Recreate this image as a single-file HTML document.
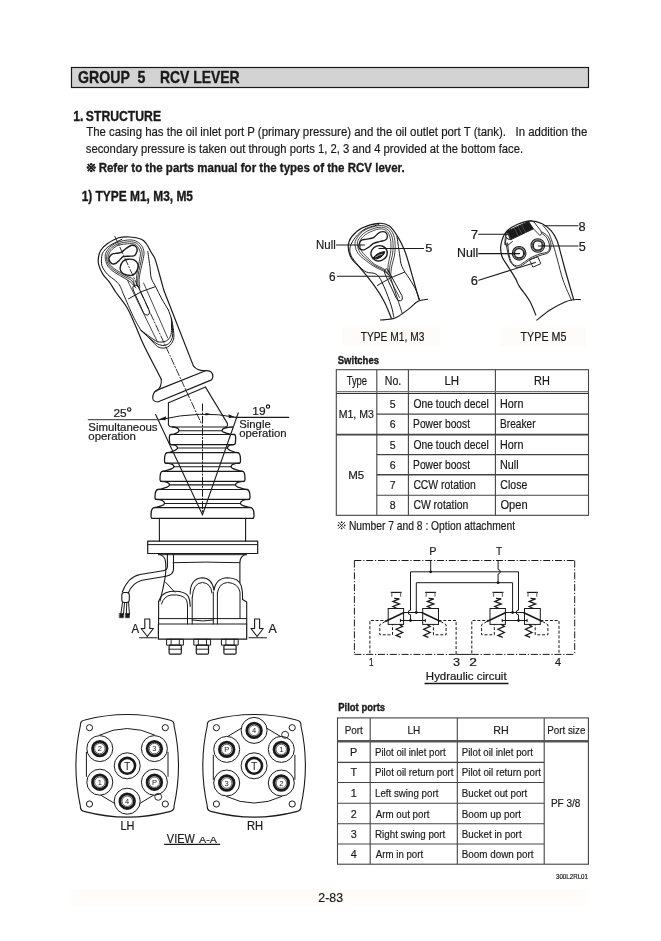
<!DOCTYPE html>
<html><head><meta charset="utf-8">
<style>
html,body{margin:0;padding:0;background:#fff;}
body{width:661px;height:941px;position:relative;overflow:hidden;}
svg{position:absolute;left:0;top:0;will-change:transform;}
text{font-family:"Liberation Sans",sans-serif;white-space:pre;}
</style></head><body>
<svg width="661" height="941" viewBox="0 0 661 941">
<!-- 00_header.svg -->
<rect x="71.5" y="67.5" width="517" height="20" fill="#d3d3d3" stroke="#1a1a1a" stroke-width="1.2"/>

<!-- 10_tables.svg -->
<g stroke="#444" stroke-width="1.1" fill="none" shape-rendering="auto">
<rect x="336.3" y="369.7" width="252.2" height="145.6"/>
<line x1="376.8" y1="369.7" x2="376.8" y2="515.3"/>
<line x1="408.4" y1="369.7" x2="408.4" y2="515.3"/>
<line x1="495.4" y1="369.7" x2="495.4" y2="515.3"/>
<line x1="336.3" y1="391.6" x2="588.5" y2="391.6" stroke="#777"/>
<line x1="336.3" y1="393.5" x2="588.5" y2="393.5" stroke="#333"/>
<line x1="376.8" y1="414.1" x2="588.5" y2="414.1"/>
<line x1="336.3" y1="434.6" x2="588.5" y2="434.6" stroke-width="1.6"/>
<line x1="376.8" y1="454.6" x2="588.5" y2="454.6"/>
<line x1="376.8" y1="474.8" x2="588.5" y2="474.8" stroke-width="1.5"/>
<line x1="376.8" y1="495.3" x2="588.5" y2="495.3"/>
</g>
<g stroke="#444" stroke-width="1.1" fill="none">
<rect x="337.5" y="717.9" width="250.9" height="146.3"/>
<line x1="370.2" y1="717.9" x2="370.2" y2="864.2"/>
<line x1="457.3" y1="717.9" x2="457.3" y2="864.2"/>
<line x1="544.2" y1="717.9" x2="544.2" y2="864.2"/>
<line x1="337.5" y1="741.2" x2="588.4" y2="741.2" stroke-width="2.6" stroke="#555"/>
<line x1="337.5" y1="762.4" x2="544.2" y2="762.4"/>
<line x1="337.5" y1="782.5" x2="544.2" y2="782.5"/>
<line x1="337.5" y1="803.2" x2="544.2" y2="803.2"/>
<line x1="337.5" y1="823.7" x2="544.2" y2="823.7"/>
<line x1="337.5" y1="844.0" x2="544.2" y2="844.0"/>
</g>

<!-- 20_hyd.svg -->
<g stroke="#1a1a1a" fill="none">
<line x1="354.40" y1="560.50" x2="574.70" y2="560.50" stroke-width="1.0" stroke-dasharray="7,1.8,1.2,1.8"/>
<line x1="354.40" y1="560.50" x2="354.40" y2="654.40" stroke-width="1.0" stroke-dasharray="7,1.8,1.2,1.8"/>
<line x1="574.70" y1="560.50" x2="574.70" y2="654.40" stroke-width="1.0" stroke-dasharray="7,1.8,1.2,1.8"/>
<line x1="354.40" y1="654.40" x2="456.10" y2="654.40" stroke-width="1.0" stroke-dasharray="7,1.8,1.2,1.8"/>
<line x1="456.10" y1="654.40" x2="471.80" y2="654.40" stroke-width="1.0" />
<line x1="471.80" y1="654.40" x2="574.70" y2="654.40" stroke-width="1.0" stroke-dasharray="7,1.8,1.2,1.8"/>
<line x1="430.70" y1="560.50" x2="430.70" y2="571.80" stroke-width="1.0" />
<line x1="410.50" y1="571.80" x2="518.50" y2="571.80" stroke-width="1.0" />
<circle cx="430.7" cy="571.8" r="1.4" fill="#1a1a1a" stroke="none"/>
<path d="M498.1 560.5 V569.5999999999999 a2.2 2.2 0 0 1 0 4.4 V582.7" stroke-width="1.0" />
<line x1="416.30" y1="582.70" x2="512.60" y2="582.70" stroke-width="1.0" />
<circle cx="498.1" cy="582.7" r="1.4" fill="#1a1a1a" stroke="none"/>
<rect x="388.20" y="608.5" width="15.40" height="15.90" stroke-width="1.0"/>
<rect x="422.70" y="608.5" width="15.80" height="15.90" stroke-width="1.0"/>
<line x1="385.10" y1="621.50" x2="404.10" y2="612.50" stroke-width="1.6" />
<line x1="421.60" y1="612.50" x2="440.70" y2="621.50" stroke-width="1.6" />
<line x1="403.60" y1="612.50" x2="422.70" y2="612.50" stroke-width="1.0" />
<line x1="400.40" y1="620.50" x2="425.30" y2="620.50" stroke-width="1.0" />
<line x1="400.40" y1="618.90" x2="400.40" y2="622.10" stroke-width="1.0" />
<line x1="425.30" y1="618.90" x2="425.30" y2="622.10" stroke-width="1.0" />
<line x1="390.70" y1="592.40" x2="401.70" y2="592.40" stroke-width="1.2" />
<line x1="391.80" y1="592.40" x2="391.80" y2="596.80" stroke-width="1.1" stroke="#666"/>
<line x1="400.60" y1="592.40" x2="400.60" y2="596.80" stroke-width="1.1" stroke="#666"/>
<path d="M394.20 598.40 L399.40 598.90 L393.00 601.43 L399.40 603.96 L393.00 606.48 L397.20 608.5" stroke-width="1.3" />
<line x1="425.10" y1="592.40" x2="436.10" y2="592.40" stroke-width="1.2" />
<line x1="426.20" y1="592.40" x2="426.20" y2="596.80" stroke-width="1.1" stroke="#666"/>
<line x1="435.00" y1="592.40" x2="435.00" y2="596.80" stroke-width="1.1" stroke="#666"/>
<path d="M428.60 598.40 L433.80 598.90 L427.40 601.43 L433.80 603.96 L427.40 606.48 L431.60 608.5" stroke-width="1.3" />
<path d="M399.40 624.40 L402.60 626.35 L396.20 629.27 L402.60 632.52 L396.20 635.45 L400.90 637.4" stroke-width="1.3" />
<path d="M426.90 624.40 L430.10 626.35 L423.70 629.27 L430.10 632.52 L423.70 635.45 L428.40 637.4" stroke-width="1.3" />
<path d="M385.10 621.5 L379.80 624.7 V634.8 H392.50 V624.4" stroke-width="1.0" stroke-dasharray="3,1.8"/>
<path d="M440.70 621.5 L446.10 624.7 V634.8 H433.40 V624.4" stroke-width="1.0" stroke-dasharray="3,1.8"/>
<path d="M388.20 620.5 H369.90 V654.4" stroke-width="1.0" stroke-dasharray="3,1.8"/>
<path d="M438.50 620.5 H456.10 V654.4" stroke-width="1.0" stroke-dasharray="3,1.8"/>
<path d="M410.5 571.8 V610.2 a2.3 2.3 0 0 0 0 4.6 V620.5" stroke-width="1.0" />
<circle cx="410.5" cy="620.5" r="1.4" fill="#1a1a1a" stroke="none"/>
<line x1="416.30" y1="582.70" x2="416.30" y2="612.50" stroke-width="1.0" />
<circle cx="416.3" cy="612.5" r="1.4" fill="#1a1a1a" stroke="none"/>
<rect x="490.00" y="608.5" width="15.40" height="15.90" stroke-width="1.0"/>
<rect x="524.50" y="608.5" width="15.80" height="15.90" stroke-width="1.0"/>
<line x1="486.90" y1="621.50" x2="505.90" y2="612.50" stroke-width="1.6" />
<line x1="523.40" y1="612.50" x2="542.50" y2="621.50" stroke-width="1.6" />
<line x1="505.40" y1="612.50" x2="524.50" y2="612.50" stroke-width="1.0" />
<line x1="502.20" y1="620.50" x2="527.10" y2="620.50" stroke-width="1.0" />
<line x1="502.20" y1="618.90" x2="502.20" y2="622.10" stroke-width="1.0" />
<line x1="527.10" y1="618.90" x2="527.10" y2="622.10" stroke-width="1.0" />
<line x1="492.50" y1="592.40" x2="503.50" y2="592.40" stroke-width="1.2" />
<line x1="493.60" y1="592.40" x2="493.60" y2="596.80" stroke-width="1.1" stroke="#666"/>
<line x1="502.40" y1="592.40" x2="502.40" y2="596.80" stroke-width="1.1" stroke="#666"/>
<path d="M496.00 598.40 L501.20 598.90 L494.80 601.43 L501.20 603.96 L494.80 606.48 L499.00 608.5" stroke-width="1.3" />
<line x1="526.90" y1="592.40" x2="537.90" y2="592.40" stroke-width="1.2" />
<line x1="528.00" y1="592.40" x2="528.00" y2="596.80" stroke-width="1.1" stroke="#666"/>
<line x1="536.80" y1="592.40" x2="536.80" y2="596.80" stroke-width="1.1" stroke="#666"/>
<path d="M530.40 598.40 L535.60 598.90 L529.20 601.43 L535.60 603.96 L529.20 606.48 L533.40 608.5" stroke-width="1.3" />
<path d="M501.20 624.40 L504.40 626.35 L498.00 629.27 L504.40 632.52 L498.00 635.45 L502.70 637.4" stroke-width="1.3" />
<path d="M528.70 624.40 L531.90 626.35 L525.50 629.27 L531.90 632.52 L525.50 635.45 L530.20 637.4" stroke-width="1.3" />
<path d="M486.90 621.5 L481.60 624.7 V634.8 H494.30 V624.4" stroke-width="1.0" stroke-dasharray="3,1.8"/>
<path d="M542.50 621.5 L547.90 624.7 V634.8 H535.20 V624.4" stroke-width="1.0" stroke-dasharray="3,1.8"/>
<path d="M490.00 620.5 H471.80 V654.4" stroke-width="1.0" stroke-dasharray="3,1.8"/>
<path d="M540.30 620.5 H559.00 V654.4" stroke-width="1.0" stroke-dasharray="3,1.8"/>
<line x1="512.60" y1="582.70" x2="512.60" y2="612.50" stroke-width="1.0" />
<circle cx="512.6" cy="612.5" r="1.4" fill="#1a1a1a" stroke="none"/>
<path d="M518.5 571.8 V610.2 a2.3 2.3 0 0 0 0 4.6 V620.5" stroke-width="1.0" />
<circle cx="518.5" cy="620.5" r="1.4" fill="#1a1a1a" stroke="none"/>
<line x1="424.50" y1="683.40" x2="508.50" y2="683.40" stroke-width="1.5" />
</g>
<!-- 30_joy_bottom.svg -->
<g stroke="#1a1a1a" fill="none" stroke-linejoin="round" stroke-linecap="round">
<path d="M172.50 427 C177.00 427.30 179.00 428.90 179.00 430.70 C179.00 432.50 173.50 434.50 170.50 434.50 C168.70 435.00 169.50 438.50 169.50 441.84 C169.50 443.90 170.50 444.70 171.50 444.70 C175.50 445.00 177.50 446.20 177.50 448.00 C177.50 449.80 170.00 452.70 167.00 452.70 C165.20 453.20 164.50 456.70 164.50 460.19 C164.50 462.30 164.50 463.10 165.50 463.10 C172.00 463.40 174.00 465.00 174.00 466.80 C174.00 468.60 165.20 471.30 162.20 471.30 C160.40 471.80 160.00 475.30 160.00 478.50 C160.00 480.50 160.00 481.30 161.00 481.30 C167.50 481.60 169.50 483.10 169.50 484.90 C169.50 486.70 160.70 489.50 157.70 489.50 C155.90 490.00 155.00 493.50 155.00 496.63 C155.00 498.60 155.00 499.40 156.00 499.40 C162.50 499.70 164.50 501.70 164.50 503.50 C164.50 505.30 157.00 507.60 154.00 507.60 C152.20 508.10 151.00 511.60 151.00 515.30 C151.00 517.50 151.00 518.30 152.00 518.30 " stroke-width="1.3" />
<path d="M232.50 427 C224.00 427.30 222.00 428.90 222.00 430.70 C222.00 432.50 231.50 434.50 234.50 434.50 C236.30 435.00 235.50 438.50 235.50 441.84 C235.50 443.90 234.50 444.70 233.50 444.70 C229.50 445.00 227.50 446.20 227.50 448.00 C227.50 449.80 235.00 452.70 238.00 452.70 C239.80 453.20 240.50 456.70 240.50 460.19 C240.50 462.30 240.50 463.10 239.50 463.10 C233.00 463.40 231.00 465.00 231.00 466.80 C231.00 468.60 239.80 471.30 242.80 471.30 C244.60 471.80 245.00 475.30 245.00 478.50 C245.00 480.50 245.00 481.30 244.00 481.30 C237.50 481.60 235.50 483.10 235.50 484.90 C235.50 486.70 244.30 489.50 247.30 489.50 C249.10 490.00 250.00 493.50 250.00 496.63 C250.00 498.60 250.00 499.40 249.00 499.40 C242.50 499.70 240.50 501.70 240.50 503.50 C240.50 505.30 248.00 507.60 251.00 507.60 C252.80 508.10 254.00 511.60 254.00 515.30 C254.00 517.50 254.00 518.30 253.00 518.30 " stroke-width="1.3" />
<line x1="170.50" y1="434.50" x2="234.50" y2="434.50" stroke-width="1.2" />
<line x1="171.50" y1="444.70" x2="233.50" y2="444.70" stroke-width="1.2" />
<line x1="167.00" y1="452.70" x2="238.00" y2="452.70" stroke-width="1.2" />
<line x1="165.50" y1="463.10" x2="239.50" y2="463.10" stroke-width="1.2" />
<line x1="162.20" y1="471.30" x2="242.80" y2="471.30" stroke-width="1.2" />
<line x1="161.00" y1="481.30" x2="244.00" y2="481.30" stroke-width="1.2" />
<line x1="157.70" y1="489.50" x2="247.30" y2="489.50" stroke-width="1.2" />
<line x1="156.00" y1="499.40" x2="249.00" y2="499.40" stroke-width="1.2" />
<line x1="154.00" y1="507.60" x2="251.00" y2="507.60" stroke-width="1.2" />
<line x1="152.00" y1="518.30" x2="253.00" y2="518.30" stroke-width="1.2" />
<line x1="179.00" y1="430.70" x2="222.00" y2="430.70" stroke-width="1.1" />
<line x1="177.50" y1="448.00" x2="227.50" y2="448.00" stroke-width="1.1" />
<line x1="174.00" y1="466.80" x2="231.00" y2="466.80" stroke-width="1.1" />
<line x1="169.50" y1="484.90" x2="235.50" y2="484.90" stroke-width="1.1" />
<line x1="164.50" y1="503.50" x2="240.50" y2="503.50" stroke-width="1.1" />
<line x1="172.30" y1="427.00" x2="225.40" y2="427.00" stroke-width="1.2" />
<path d="M168.4 424.5 Q168.8 427 172.3 427" stroke-width="1.1" />
<path d="M205.5 387.1 L227.4 423.4 Q228 427 225.4 427" stroke-width="1.1" />
<line x1="159.40" y1="518.30" x2="159.40" y2="541.30" stroke-width="1.1" />
<line x1="245.60" y1="518.30" x2="245.60" y2="541.30" stroke-width="1.1" />
<rect x="147.7" y="541.2" width="110" height="12.3" stroke-width="1.2"/>
<line x1="147.70" y1="544.60" x2="257.70" y2="544.60" stroke-width="1.0" />
<line x1="158.60" y1="554.70" x2="246.50" y2="554.70" stroke-width="1.0" />
<path d="M158.6 554.2 Q163 555 165 559 Q166.5 566 165.4 575.8 Q163 590 160 601" stroke-width="1.1" />
<path d="M246.3 554.2 Q240 556 239.9 562 V583" stroke-width="1.1" />
<path d="M173.2 562.7 Q205 561.5 239.9 562.7" stroke-width="1.0" />
<path d="M165.4 582 L174.9 592.2" stroke-width="1.0" />
<path d="M158.6 601.5 Q161 593 170 591.5 Q184 590 188.5 596.5 Q190 600 190.2 606.3" stroke-width="1.1" />
<path d="M161.5 604 Q164 596 171 595 Q183 594 186.5 600 Q187.6 603 187.6 607" stroke-width="1.0" />
<path d="M190.2 594 Q190 579 201.8 577.7 Q212 577.7 214 590" stroke-width="1.1" />
<path d="M192.4 597 Q193 583 202.4 582.5 Q211 583 212 593" stroke-width="1.0" />
<path d="M214 590 Q216 578 227.6 577.7 Q239 578 241.3 585.9 Q243 592 242.6 599.5" stroke-width="1.1" />
<path d="M217.4 593 Q219 583 227.6 582.5 Q238 583 240 592 L240 618.6" stroke-width="1.0" />
<line x1="187.50" y1="606.30" x2="187.50" y2="624.00" stroke-width="1.0" />
<line x1="192.20" y1="597.00" x2="192.20" y2="624.00" stroke-width="1.0" />
<line x1="213.30" y1="592.00" x2="213.30" y2="624.00" stroke-width="1.0" />
<line x1="217.40" y1="593.00" x2="217.40" y2="624.00" stroke-width="1.0" />
<line x1="158.60" y1="601.50" x2="158.60" y2="624.00" stroke-width="1.1" />
<path d="M242.6 599.5 L246.7 602 V624" stroke-width="1.1" />
<line x1="158.60" y1="618.60" x2="246.70" y2="618.60" stroke-width="1.0" />
<path d="M192.2 620 Q203 622 213.3 620" stroke-width="1.0" />
<rect x="158.4" y="624" width="88.3" height="15.2" stroke-width="1.2"/>
<rect x="167.00" y="639.2" width="16.4" height="5.9" stroke-width="1.0"/>
<line x1="171.10" y1="639.20" x2="171.10" y2="645.10" stroke-width="0.9" />
<line x1="179.30" y1="639.20" x2="179.30" y2="645.10" stroke-width="0.9" />
<rect x="169.10" y="645.1" width="12.2" height="9.0" rx="1.2" stroke-width="1.2"/>
<line x1="169.10" y1="649.20" x2="181.30" y2="649.20" stroke-width="0.9" />
<rect x="194.20" y="639.2" width="16.4" height="5.9" stroke-width="1.0"/>
<line x1="198.30" y1="639.20" x2="198.30" y2="645.10" stroke-width="0.9" />
<line x1="206.50" y1="639.20" x2="206.50" y2="645.10" stroke-width="0.9" />
<rect x="196.30" y="645.1" width="12.2" height="9.0" rx="1.2" stroke-width="1.2"/>
<line x1="196.30" y1="649.20" x2="208.50" y2="649.20" stroke-width="0.9" />
<rect x="221.80" y="639.2" width="16.4" height="5.9" stroke-width="1.0"/>
<line x1="225.90" y1="639.20" x2="225.90" y2="645.10" stroke-width="0.9" />
<line x1="234.10" y1="639.20" x2="234.10" y2="645.10" stroke-width="0.9" />
<rect x="223.90" y="645.1" width="12.2" height="9.0" rx="1.2" stroke-width="1.2"/>
<line x1="223.90" y1="649.20" x2="236.10" y2="649.20" stroke-width="0.9" />
<path d="M167.4 554 V566.5 Q167.4 570 163 570.8 L140 574.5 Q128 577 122.3 592" stroke-width="1.1" />
<path d="M173.5 554 V569 Q173.5 575 166 576.2 L142 580.2 Q132 583 128.3 593" stroke-width="1.1" />
<rect x="121.8" y="592.5" width="7.5" height="10" rx="2.5" stroke-width="1.1"/>
<path d="M122.5 602.5 L120.8 614.5 M124.5 602.5 L123.5 614.5 M126.8 602.5 L126.3 614.5 M128.6 602.5 L129.5 614.5" stroke-width="1.0" />
<rect x="119.6" y="613.5" width="3.8" height="4.2" fill="#1a1a1a" stroke-width="0.6"/>
<rect x="125.6" y="613.5" width="3.8" height="4.2" fill="#1a1a1a" stroke-width="0.6"/>
<path d="M144.80 619 H149.80 V628.5 H153.40 L147.30 636.5 L141.20 628.5 H144.80 Z" stroke-width="1.1" />
<path d="M254.60 619 H259.60 V628.5 H263.20 L257.10 636.5 L251.00 628.5 H254.60 Z" stroke-width="1.1" />
<line x1="139.50" y1="637.80" x2="157.00" y2="637.80" stroke-width="1.1" />
<line x1="249.00" y1="637.80" x2="266.50" y2="637.80" stroke-width="1.1" />
<path d="M202.5 404 V514.8" stroke-width="1.0" stroke-dasharray="7,2,1.2,2"/>
<line x1="155.60" y1="414.50" x2="202.50" y2="514.80" stroke-width="1.1" />
<line x1="238.30" y1="412.70" x2="202.50" y2="514.80" stroke-width="1.1" />
<line x1="88.30" y1="419.60" x2="160.00" y2="419.60" stroke-width="1.3" stroke="#555"/>
<line x1="235.50" y1="417.30" x2="288.80" y2="417.30" stroke-width="1.3" />
<path d="M160 419.6 Q202 410 235.5 417.3" stroke-width="1.0" />
<path d="M158.5 419.4 L166 416.3 L165.5 420.2 Z" fill="#1a1a1a" stroke="none"/>
<path d="M235.5 417.3 L228.5 414.3 L228.8 418.0 Z" fill="#1a1a1a" stroke="none"/>
<path d="M211.5 414.2 L205.5 412.8 L205.6 415.5 Z" fill="#1a1a1a" stroke="none"/>
<circle cx="129.2" cy="409.4" r="1.7" stroke-width="1.1"/>
<circle cx="268.0" cy="406.6" r="1.7" stroke-width="1.1"/>
</g>
<!-- 31_joy_handle.svg -->
<g stroke="#1a1a1a" fill="none" stroke-linejoin="round" stroke-linecap="round">
<path d="M161.30 379.20 C159.63 376.00 154.38 366.03 151.30 360.00 C148.22 353.97 145.42 348.67 142.80 343.00 C140.18 337.33 138.22 331.87 135.60 326.00 C132.98 320.13 130.37 313.38 127.10 307.80 C123.83 302.22 118.92 296.73 116.00 292.50 C113.08 288.27 111.80 285.47 109.60 282.40 C107.40 279.33 104.63 277.12 102.80 274.10 C100.97 271.08 99.30 267.20 98.60 264.30 C97.90 261.40 98.20 259.08 98.60 256.70 C99.00 254.32 99.55 252.15 101.00 250.00 C102.45 247.85 104.35 245.83 107.30 243.80 C110.25 241.77 114.92 238.93 118.70 237.80 C122.48 236.67 126.22 236.75 130.00 237.00 C133.78 237.25 138.65 238.13 141.40 239.30 C144.15 240.47 144.85 241.80 146.50 244.00 C148.15 246.20 149.88 250.02 151.30 252.50 C152.72 254.98 153.63 255.23 155.00 258.90 C156.37 262.57 158.00 269.18 159.50 274.50 C161.00 279.82 163.25 288.08 164.00 290.80 L193.4 365.9" stroke-width="1.2" />
<path d="M161.3 379.2 Q162 388 155.9 391.3" stroke-width="1.1" />
<path d="M193.4 365.9 Q197 371 205.5 370.7" stroke-width="1.1" />
<path d="M122.00 239.20 C120.00 240.25 113.07 243.45 110.00 245.50 C106.93 247.55 104.98 249.63 103.60 251.50 C102.22 253.37 101.97 254.32 101.70 256.70 C101.43 259.08 101.07 262.90 102.00 265.80 C102.93 268.70 105.02 271.58 107.30 274.10 C109.58 276.62 113.58 278.92 115.70 280.90 C117.82 282.88 118.65 283.65 120.00 286.00 C121.35 288.35 121.60 289.95 123.80 295.00 C126.00 300.05 130.37 310.45 133.20 316.30 C136.03 322.15 139.53 327.80 140.80 330.10 " stroke-width="1.0" />
<path d="M147.80 251.50 C148.17 254.12 149.42 262.77 150.00 267.20 C150.58 271.63 150.32 274.77 151.30 278.10 C152.28 281.43 154.23 283.88 155.90 287.20 C157.57 290.52 159.22 294.20 161.30 298.00 C163.38 301.80 167.22 308.00 168.40 310.00 " stroke-width="1.0" />
<path d="M140.80 330.10 C142.33 331.58 147.22 336.27 150.00 339.00 C152.78 341.73 155.23 344.98 157.50 346.50 C159.77 348.02 161.68 348.17 163.60 348.10 C165.52 348.03 167.42 347.35 169.00 346.10 C170.58 344.85 172.30 342.65 173.10 340.60 C173.90 338.55 174.02 337.20 173.80 333.80 C173.58 330.40 172.70 324.17 171.80 320.20 C170.90 316.23 168.97 311.70 168.40 310.00 " stroke-width="1.0" />
<path d="M140.80 330.10 C142.33 331.50 147.22 336.18 150.00 338.50 C152.78 340.82 155.12 342.85 157.50 344.00 C159.88 345.15 162.27 345.62 164.30 345.40 C166.33 345.18 168.35 344.07 169.70 342.70 C171.05 341.33 171.92 339.32 172.40 337.20 C172.88 335.08 172.70 332.60 172.60 330.00 C172.50 327.40 171.93 323.00 171.80 321.60 " stroke-width="1.0" />
<path d="M140.80 330.10 C143.23 331.85 151.83 338.62 155.40 340.60 C158.97 342.58 160.15 342.10 162.20 342.00 C164.25 341.90 166.23 341.25 167.70 340.00 C169.17 338.75 170.37 336.83 171.00 334.50 C171.63 332.17 171.45 328.75 171.50 326.00 C171.55 323.25 171.33 319.33 171.30 318.00 " stroke-width="1.0" />
<path d="M128.5 298.8 Q142 290 155.2 286.7" stroke-width="1.0" />
<path d="M135.80 288.00 C134.97 287.07 132.77 284.08 130.80 282.40 C128.83 280.72 126.65 279.53 124.00 277.90 C121.35 276.27 117.55 274.50 114.90 272.60 C112.25 270.70 109.67 268.65 108.10 266.50 C106.53 264.35 105.88 261.97 105.50 259.70 C105.12 257.43 104.87 255.17 105.80 252.90 C106.73 250.63 108.95 247.93 111.10 246.10 C113.25 244.27 115.92 242.92 118.70 241.90 C121.48 240.88 125.03 240.18 127.80 240.00 C130.57 239.82 133.03 239.92 135.30 240.80 C137.57 241.68 139.95 243.40 141.40 245.30 C142.85 247.20 143.75 249.67 144.00 252.20 C144.25 254.73 143.47 257.48 142.90 260.50 C142.33 263.52 141.23 267.15 140.60 270.30 C139.97 273.45 139.23 276.45 139.10 279.40 C138.97 282.35 139.68 286.57 139.80 288.00 " stroke-width="0.85" />
<path d="M134.96 286.60 C134.44 285.63 133.50 282.42 131.85 280.79 C130.20 279.17 127.70 278.39 125.05 276.85 C122.40 275.31 118.55 273.36 115.95 271.55 C113.35 269.74 110.96 267.99 109.43 266.01 C107.90 264.03 107.10 261.79 106.76 259.70 C106.42 257.61 106.59 255.46 107.41 253.46 C108.23 251.46 109.78 249.37 111.66 247.71 C113.54 246.05 116.01 244.48 118.70 243.51 C121.39 242.54 125.11 242.07 127.80 241.89 C130.48 241.71 132.81 241.66 134.81 242.41 C136.81 243.16 138.56 244.71 139.79 246.42 C141.02 248.13 141.97 250.26 142.18 252.69 C142.40 255.12 141.60 258.06 141.08 260.99 C140.56 263.93 139.61 267.32 139.06 270.30 C138.51 273.28 137.93 276.12 137.77 278.84 C137.61 281.56 138.06 285.31 138.12 286.60 " stroke-width="0.85" />
<path d="M134.12 285.20 C133.92 284.20 134.24 280.75 132.90 279.18 C131.56 277.61 128.75 277.25 126.10 275.80 C123.45 274.35 119.56 272.21 117.00 270.50 C114.44 268.79 112.26 267.32 110.76 265.52 C109.26 263.72 108.31 261.62 108.02 259.70 C107.73 257.78 108.32 255.75 109.02 254.02 C109.72 252.29 110.61 250.80 112.22 249.32 C113.83 247.84 116.10 246.04 118.70 245.12 C121.30 244.20 125.20 243.96 127.80 243.78 C130.40 243.60 132.59 243.39 134.32 244.02 C136.05 244.65 137.17 246.01 138.18 247.54 C139.19 249.07 140.18 250.86 140.36 253.18 C140.54 255.50 139.73 258.63 139.26 261.48 C138.79 264.33 137.99 267.50 137.52 270.30 C137.05 273.10 136.62 275.80 136.44 278.28 C136.26 280.76 136.44 284.05 136.44 285.20 " stroke-width="0.85" />
<path d="M127.6 280.5 Q132 290 136 298 L157.5 342" stroke-width="0.8" />
<path d="M143.6 283 L167.7 337.9" stroke-width="0.8" />
<path d="M138.5 287 L148.8 309.5 Q150.5 313.8 147.8 315 Q145 316 143.3 312.3 L133.2 290 Q131.8 286.5 134.3 285.3 Q137 284 138.5 287 Z" stroke-width="1.0" />
<path d="M108.90 259.00 C108.73 257.70 109.75 256.38 110.50 255.50 C111.25 254.62 112.23 254.08 113.40 253.70 C114.57 253.32 116.12 253.45 117.50 253.20 C118.88 252.95 120.28 252.98 121.70 252.20 C123.12 251.42 124.35 249.65 126.00 248.50 C127.65 247.35 130.02 245.67 131.60 245.30 C133.18 244.93 134.57 245.53 135.50 246.30 C136.43 247.07 137.12 248.67 137.20 249.90 C137.28 251.13 136.57 252.70 136.00 253.70 C135.43 254.70 135.05 255.48 133.80 255.90 C132.55 256.32 130.27 256.07 128.50 256.20 C126.73 256.33 124.70 256.03 123.20 256.70 C121.70 257.37 120.75 259.07 119.50 260.20 C118.25 261.33 117.03 262.98 115.70 263.50 C114.37 264.02 112.63 264.05 111.50 263.30 C110.37 262.55 109.07 260.30 108.90 259.00 Z" stroke-width="1.4" />
<path d="M120.20 267.30 C120.53 265.72 121.53 262.83 122.80 261.50 C124.07 260.17 125.93 259.57 127.80 259.30 C129.67 259.03 132.30 259.07 134.00 259.90 C135.70 260.73 137.50 262.53 138.00 264.30 C138.50 266.07 137.95 268.68 137.00 270.50 C136.05 272.32 134.47 274.60 132.30 275.20 C130.13 275.80 125.92 274.80 124.00 274.10 C122.08 273.40 121.43 272.13 120.80 271.00 C120.17 269.87 119.87 268.88 120.20 267.30 Z" stroke-width="1.4" />
<path d="M114.8 236.3 L201.8 424.5" stroke-width="0.9" stroke-dasharray="7,2,1.2,2"/>
<path d="M157.1 390.1 L205.5 370.7 Q213 370.5 212.8 376.5 Q212.5 380 210.4 380.4 L157.7 402 Q151.5 401.5 152.9 396 Q153.8 391.5 157.1 390.1" stroke-width="1.2" />
<path d="M168.6 402.8 L205.5 387.1" stroke-width="1.1" />
<path d="M168.4 402.8 V424.5" stroke-width="1.1" />
</g>
<!-- 40_small.svg -->
<rect x="342.3" y="327.5" width="98.1" height="19" fill="#fdfcfa" stroke="none"/><rect x="500.3" y="327.5" width="85.7" height="19" fill="#fdfcfa" stroke="none"/><rect x="71" y="889" width="517" height="17" fill="#fefdfb" stroke="none"/>
<g stroke="#1a1a1a" fill="none" stroke-linejoin="round" stroke-linecap="round">
<path d="M391.30 318.10 C390.08 315.28 387.02 306.85 384.00 301.20 C380.98 295.55 377.05 289.60 373.20 284.20 C369.35 278.80 364.53 273.13 360.90 268.80 C357.27 264.47 353.52 261.90 351.40 258.20 C349.28 254.50 348.20 250.12 348.20 246.60 C348.20 243.08 349.10 240.20 351.40 237.10 C353.70 234.00 357.42 230.30 362.00 228.00 C366.58 225.70 374.32 223.63 378.90 223.30 C383.48 222.97 386.32 223.70 389.50 226.00 C392.68 228.30 395.53 233.13 398.00 237.10 C400.47 241.07 402.55 245.57 404.30 249.80 C406.05 254.03 406.97 257.47 408.50 262.50 C410.03 267.53 411.72 273.75 413.50 280.00 C415.28 286.25 418.25 296.67 419.20 300.00 " stroke-width="1.2" />
<path d="M393.70 316.90 C393.30 315.08 392.92 311.05 391.30 306.00 C389.68 300.95 386.42 291.85 384.00 286.60 C381.58 281.35 379.77 276.93 376.80 274.50 C373.83 272.07 369.33 273.58 366.20 272.00 C363.07 270.42 360.57 267.83 358.00 265.00 C355.43 262.17 352.08 258.07 350.80 255.00 C349.52 251.93 349.50 249.58 350.30 246.60 C351.10 243.62 353.15 240.03 355.60 237.10 C358.05 234.17 361.12 231.08 365.00 229.00 C368.88 226.92 376.58 225.33 378.90 224.60 " stroke-width="1.0" />
<path d="M389.80 276.00 C389.03 275.33 387.50 273.42 385.20 272.00 C382.90 270.58 378.82 269.10 376.00 267.50 C373.18 265.90 371.22 264.65 368.30 262.40 C365.38 260.15 360.72 256.90 358.50 254.00 C356.28 251.10 355.25 247.67 355.00 245.00 C354.75 242.33 355.33 240.50 357.00 238.00 C358.67 235.50 361.35 232.07 365.00 230.00 C368.65 227.93 375.07 226.02 378.90 225.60 C382.73 225.18 385.53 225.92 388.00 227.50 C390.47 229.08 392.50 232.02 393.70 235.10 C394.90 238.18 395.08 242.52 395.20 246.00 C395.32 249.48 394.97 252.67 394.40 256.00 C393.83 259.33 392.43 262.67 391.80 266.00 C391.17 269.33 390.80 274.33 390.60 276.00 " stroke-width="0.8" />
<path d="M388.50 274.70 C387.87 274.02 386.94 272.11 384.75 270.63 C382.55 269.16 377.97 267.46 375.35 265.88 C372.73 264.29 371.55 263.30 369.01 261.10 C366.48 258.90 362.05 255.44 360.12 252.70 C358.20 249.96 357.67 247.02 357.47 244.68 C357.27 242.33 357.48 240.83 358.95 238.65 C360.42 236.47 362.98 233.52 366.30 231.62 C369.62 229.73 375.45 227.73 378.90 227.29 C382.35 226.85 384.87 227.54 387.02 229.00 C389.18 230.45 390.80 233.18 391.81 236.01 C392.83 238.84 393.04 242.78 393.12 246.00 C393.20 249.22 392.84 252.12 392.32 255.35 C391.80 258.57 390.48 262.12 389.98 265.35 C389.48 268.58 389.41 273.14 389.30 274.70 " stroke-width="0.8" />
<path d="M387.20 273.40 C386.71 272.71 386.37 270.79 384.29 269.27 C382.21 267.75 377.13 265.83 374.70 264.25 C372.27 262.67 371.89 261.94 369.73 259.80 C367.57 257.66 363.38 253.97 361.75 251.40 C360.12 248.83 360.08 246.37 359.94 244.35 C359.80 242.33 359.62 241.15 360.90 239.30 C362.18 237.45 364.60 234.97 367.60 233.25 C370.60 231.53 375.82 229.44 378.90 228.98 C381.97 228.52 384.21 229.17 386.05 230.49 C387.89 231.81 389.10 234.34 389.93 236.92 C390.76 239.51 390.99 243.04 391.04 246.00 C391.09 248.96 390.72 251.58 390.24 254.70 C389.76 257.82 388.53 261.58 388.16 264.70 C387.79 267.82 388.03 271.95 388.00 273.40 " stroke-width="0.8" />
<path d="M396.90 236.00 C397.33 238.93 398.68 248.55 399.50 253.60 C400.32 258.65 400.22 262.22 401.80 266.30 C403.38 270.38 406.80 274.48 409.00 278.10 C411.20 281.72 413.25 284.43 415.00 288.00 C416.75 291.57 418.75 297.58 419.50 299.50 " stroke-width="1.0" />
<path d="M390.1 276 L402.2 313.3" stroke-width="0.9" />
<path d="M377.4 285.4 Q390 277 404.6 272.1" stroke-width="1.0" />
<path d="M388.5 271 L401.8 295.5 Q403.5 300 400.5 300.8 Q397.5 301.5 396 297.5 L384.8 273.5 Q383.5 269.5 386.3 268.8 Q388 268.5 388.5 271 Z" stroke-width="1.0" />
<path d="M388.8 277 L399.5 297.5" stroke-width="0.8" />
<path d="M380.40 320.00 C382.83 319.68 390.15 320.03 395.00 318.10 C399.85 316.17 405.67 311.22 409.50 308.40 C413.33 305.58 414.98 302.72 418.00 301.20 C421.02 299.68 426.00 299.62 427.60 299.30 " stroke-width="1.1" />
<path d="M358.80 245.50 C358.97 244.08 359.77 241.55 361.00 240.50 C362.23 239.45 364.10 239.68 366.20 239.20 C368.30 238.72 371.63 238.55 373.60 237.60 C375.57 236.65 376.77 234.47 378.00 233.50 C379.23 232.53 379.75 232.00 381.00 231.80 C382.25 231.60 384.43 231.52 385.50 232.30 C386.57 233.08 387.40 235.22 387.40 236.50 C387.40 237.78 386.73 239.17 385.50 240.00 C384.27 240.83 381.98 240.93 380.00 241.50 C378.02 242.07 375.43 242.48 373.60 243.40 C371.77 244.32 370.58 245.93 369.00 247.00 C367.42 248.07 365.60 249.47 364.10 249.80 C362.60 250.13 360.88 249.72 360.00 249.00 C359.12 248.28 358.63 246.92 358.80 245.50 Z" stroke-width="1.3" />
<ellipse cx="379.1" cy="253.3" rx="8.2" ry="7.6" transform="rotate(-20 379.1 253.3)" stroke-width="1.4"/>
<path d="M373.2 257.8 Q377.5 252.2 384.8 251.6 Q384 256.5 377 258.9 Z" stroke-width="1.0" fill="#1a1a1a"/>
<path d="M375.5 257 Q379 254.5 382.3 254.2" stroke-width="0.6" stroke="#fff"/>
<line x1="336.50" y1="245.00" x2="364.60" y2="245.00" stroke-width="1.1" />
<line x1="378.90" y1="248.50" x2="423.50" y2="248.50" stroke-width="1.1" />
<line x1="337.50" y1="276.30" x2="389.50" y2="276.30" stroke-width="1.1" />
<path d="M535.80 315.00 C534.80 312.70 532.57 306.02 529.80 301.20 C527.03 296.38 521.55 289.82 519.20 286.10 C516.85 282.38 517.60 282.23 515.70 278.90 C513.80 275.57 510.10 269.87 507.80 266.10 C505.50 262.33 503.03 259.90 501.90 256.30 C500.77 252.70 500.25 248.60 501.00 244.50 C501.75 240.40 503.62 235.07 506.40 231.70 C509.18 228.33 513.70 226.10 517.70 224.30 C521.70 222.50 526.32 220.98 530.40 220.90 C534.48 220.82 538.75 222.17 542.20 223.80 C545.65 225.43 548.63 227.90 551.10 230.70 C553.57 233.50 555.35 236.67 557.00 240.60 C558.65 244.53 559.73 249.73 561.00 254.30 C562.27 258.87 562.48 260.43 564.60 268.00 C566.72 275.57 572.18 294.42 573.70 299.70 " stroke-width="1.2" />
<path d="M543.00 225.50 C544.00 226.83 547.25 230.08 549.00 233.50 C550.75 236.92 552.08 241.58 553.50 246.00 C554.92 250.42 555.92 254.33 557.50 260.00 C559.08 265.67 560.67 273.25 563.00 280.00 C565.33 286.75 570.08 297.08 571.50 300.50 " stroke-width="0.9" />
<path d="M536.80 320.10 C539.00 318.42 545.30 313.02 550.00 310.00 C554.70 306.98 561.05 303.72 565.00 302.00 C568.95 300.28 571.13 300.10 573.70 299.70 C576.27 299.30 579.28 299.62 580.40 299.60 " stroke-width="1.1" />
<path d="M506.00 243.00 C506.42 245.17 507.58 252.58 508.50 256.00 C509.42 259.42 509.97 261.58 511.50 263.50 C513.03 265.42 515.62 267.42 517.70 267.50 C519.78 267.58 521.88 265.33 524.00 264.00 C526.12 262.67 527.73 260.92 530.40 259.50 C533.07 258.08 536.98 256.67 540.00 255.50 C543.02 254.33 546.67 254.25 548.50 252.50 C550.33 250.75 551.08 247.67 551.00 245.00 C550.92 242.33 549.50 238.67 548.00 236.50 C546.50 234.33 543.00 232.75 542.00 232.00 " stroke-width="0.9" />
<path d="M507.60 243.00 C507.88 245.17 508.49 252.58 509.30 256.00 C510.11 259.42 511.06 261.85 512.46 263.50 C513.86 265.15 515.78 266.08 517.70 265.90 C519.62 265.72 521.88 263.73 524.00 262.40 C526.12 261.07 527.73 259.32 530.40 257.90 C533.07 256.48 537.06 254.93 540.00 253.90 C542.94 252.87 546.45 253.18 548.02 251.70 C549.59 250.22 549.67 247.40 549.40 245.00 C549.13 242.60 547.63 239.20 546.40 237.30 C545.17 235.40 542.73 234.22 542.00 233.60 " stroke-width="0.9" />
<path d="M504.90 244.50 C505.00 243.17 504.98 238.58 505.50 236.50 C506.02 234.42 507.58 232.75 508.00 232.00 " stroke-width="0.9" />
<path d="M507.3 231.2 L528.5 221.4 L533.4 228.8 L510.8 239.6 Z" stroke-width="1.0" fill="#1a1a1a"/>
<line x1="514.30" y1="227.97" x2="518.26" y2="236.04" stroke-width="0.5" stroke="#777"/>
<line x1="517.90" y1="226.30" x2="522.10" y2="234.20" stroke-width="0.5" stroke="#777"/>
<line x1="521.29" y1="224.73" x2="525.72" y2="232.47" stroke-width="0.5" stroke="#777"/>
<path d="M507.3 231.2 Q504.8 232.5 505.8 236.5 Q507 240 510.8 239.6" stroke-width="1.0" />
<path d="M506.2 238.5 L505.2 243 Q505 246 507.5 245.5 L512.5 241.5" stroke-width="0.9" />
<path d="M528.5 221.4 Q531 219.5 534 222 L541 231 Q542.5 234 540 235.5 L533.4 228.8" stroke-width="0.9" />
<circle cx="519.1" cy="253.3" r="6.8" stroke-width="1.1"/>
<circle cx="519.1" cy="253.3" r="5.6" stroke-width="0.8"/>
<circle cx="519.1" cy="253.3" r="4.6" stroke-width="1.3"/>
<circle cx="537.8" cy="245.5" r="6.8" stroke-width="1.1"/>
<circle cx="537.8" cy="245.5" r="5.6" stroke-width="0.8"/>
<circle cx="537.8" cy="245.5" r="4.6" stroke-width="1.3"/>
<path d="M529.5 259.7 L537.8 256.8 L540.8 263.7 L532.9 267.1 Z" stroke-width="1.0" stroke-dasharray="2.5,1"/>
<line x1="478.70" y1="234.20" x2="507.80" y2="234.20" stroke-width="1.1" />
<line x1="478.70" y1="253.60" x2="519.60" y2="253.60" stroke-width="1.1" />
<line x1="478.70" y1="280.20" x2="535.40" y2="262.40" stroke-width="1.1" />
<line x1="545.20" y1="225.70" x2="578.00" y2="225.70" stroke-width="1.1" />
<line x1="538.30" y1="246.00" x2="578.00" y2="246.00" stroke-width="1.1" />
</g>
<!-- 50_view.svg -->
<g stroke="#1a1a1a" fill="none" stroke-linejoin="round">
<path d="M84.90 720.00 Q127.20 709.00 169.50 720.00 Q174.50 721.00 174.00 725.50 Q183.00 765.80 174.00 806.10 Q174.50 810.60 169.50 811.60 Q127.20 822.60 84.90 811.60 Q79.90 810.60 80.40 806.10 Q71.40 765.80 80.40 725.50 Q79.90 721.00 84.90 720.00 Z" stroke-width="1.1" />
<circle cx="89.50" cy="727.70" r="3.10" stroke-width="1.0" />
<circle cx="89.50" cy="804.00" r="3.10" stroke-width="1.0" />
<circle cx="165.30" cy="727.70" r="3.10" stroke-width="1.0" />
<circle cx="165.30" cy="804.00" r="3.10" stroke-width="1.0" />
<path d="M86.40 751.80 L86.40 776.80 M168.00 751.80 L168.00 776.80 M99.20 735.30 Q127.20 721.80 155.20 735.30 M100.20 794.80 L115.20 803.80 M139.20 803.80 L154.20 794.80" stroke-width="1.0" />
<circle cx="99.80" cy="748.60" r="13.00" stroke-width="1.0" fill="#fff"/>
<circle cx="99.80" cy="748.60" r="7.30" stroke-width="2.8" />
<circle cx="99.80" cy="748.60" r="5.20" stroke-width="0.7" />
<text x="99.80" y="751.40" font-size="7.5" text-anchor="middle" fill="#1a1a1a" stroke="none" >2</text>
<circle cx="154.40" cy="748.60" r="13.00" stroke-width="1.0" fill="#fff"/>
<circle cx="154.40" cy="748.60" r="7.30" stroke-width="2.8" />
<circle cx="154.40" cy="748.60" r="5.20" stroke-width="0.7" />
<text x="154.40" y="751.40" font-size="7.5" text-anchor="middle" fill="#1a1a1a" stroke="none" >3</text>
<circle cx="127.20" cy="765.80" r="13.00" stroke-width="1.0" fill="#fff"/>
<circle cx="127.20" cy="765.80" r="7.90" stroke-width="2.6" />
<text x="127.20" y="769.70" font-size="10.5" text-anchor="middle" fill="#1a1a1a" stroke="none" >T</text>
<circle cx="99.80" cy="782.20" r="13.00" stroke-width="1.0" fill="#fff"/>
<circle cx="99.80" cy="782.20" r="7.30" stroke-width="2.8" />
<circle cx="99.80" cy="782.20" r="5.20" stroke-width="0.7" />
<text x="99.80" y="785.00" font-size="7.5" text-anchor="middle" fill="#1a1a1a" stroke="none" >1</text>
<circle cx="154.40" cy="782.20" r="13.00" stroke-width="1.0" fill="#fff"/>
<circle cx="154.40" cy="782.20" r="7.30" stroke-width="2.8" />
<circle cx="154.40" cy="782.20" r="5.20" stroke-width="0.7" />
<text x="154.40" y="785.00" font-size="7.5" text-anchor="middle" fill="#1a1a1a" stroke="none" >P</text>
<circle cx="127.20" cy="801.20" r="13.00" stroke-width="1.0" fill="#fff"/>
<circle cx="127.20" cy="801.20" r="7.30" stroke-width="2.8" />
<circle cx="127.20" cy="801.20" r="5.20" stroke-width="0.7" />
<text x="127.20" y="804.00" font-size="7.5" text-anchor="middle" fill="#1a1a1a" stroke="none" >4</text>
<circle cx="158.20" cy="796.80" r="3.50" stroke-width="0.9" />
<path d="M211.80 720.00 Q254.10 709.00 296.40 720.00 Q301.40 721.00 300.90 725.50 Q309.90 765.80 300.90 806.10 Q301.40 810.60 296.40 811.60 Q254.10 822.60 211.80 811.60 Q206.80 810.60 207.30 806.10 Q198.30 765.80 207.30 725.50 Q206.80 721.00 211.80 720.00 Z" stroke-width="1.1" />
<circle cx="216.40" cy="727.70" r="3.10" stroke-width="1.0" />
<circle cx="216.40" cy="804.00" r="3.10" stroke-width="1.0" />
<circle cx="292.20" cy="727.70" r="3.10" stroke-width="1.0" />
<circle cx="292.20" cy="804.00" r="3.10" stroke-width="1.0" />
<path d="M213.30 779.80 L213.30 754.80 M294.90 779.80 L294.90 754.80 M226.10 796.30 Q254.10 809.80 282.10 796.30 M227.10 736.80 L242.10 727.80 M266.10 727.80 L281.10 736.80" stroke-width="1.0" />
<circle cx="226.70" cy="783.00" r="13.00" stroke-width="1.0" fill="#fff"/>
<circle cx="226.70" cy="783.00" r="7.30" stroke-width="2.8" />
<circle cx="226.70" cy="783.00" r="5.20" stroke-width="0.7" />
<text x="226.70" y="785.80" font-size="7.5" text-anchor="middle" fill="#1a1a1a" stroke="none" >3</text>
<circle cx="281.30" cy="783.00" r="13.00" stroke-width="1.0" fill="#fff"/>
<circle cx="281.30" cy="783.00" r="7.30" stroke-width="2.8" />
<circle cx="281.30" cy="783.00" r="5.20" stroke-width="0.7" />
<text x="281.30" y="785.80" font-size="7.5" text-anchor="middle" fill="#1a1a1a" stroke="none" >2</text>
<circle cx="254.10" cy="765.80" r="13.00" stroke-width="1.0" fill="#fff"/>
<circle cx="254.10" cy="765.80" r="7.90" stroke-width="2.6" />
<text x="254.10" y="769.70" font-size="10.5" text-anchor="middle" fill="#1a1a1a" stroke="none" >T</text>
<circle cx="226.70" cy="749.40" r="13.00" stroke-width="1.0" fill="#fff"/>
<circle cx="226.70" cy="749.40" r="7.30" stroke-width="2.8" />
<circle cx="226.70" cy="749.40" r="5.20" stroke-width="0.7" />
<text x="226.70" y="752.20" font-size="7.5" text-anchor="middle" fill="#1a1a1a" stroke="none" >P</text>
<circle cx="281.30" cy="749.40" r="13.00" stroke-width="1.0" fill="#fff"/>
<circle cx="281.30" cy="749.40" r="7.30" stroke-width="2.8" />
<circle cx="281.30" cy="749.40" r="5.20" stroke-width="0.7" />
<text x="281.30" y="752.20" font-size="7.5" text-anchor="middle" fill="#1a1a1a" stroke="none" >1</text>
<circle cx="254.10" cy="730.40" r="13.00" stroke-width="1.0" fill="#fff"/>
<circle cx="254.10" cy="730.40" r="7.30" stroke-width="2.8" />
<circle cx="254.10" cy="730.40" r="5.20" stroke-width="0.7" />
<text x="254.10" y="733.20" font-size="7.5" text-anchor="middle" fill="#1a1a1a" stroke="none" >4</text>
<circle cx="285.10" cy="734.80" r="3.50" stroke-width="0.9" />
<line x1="164.2" y1="844.4" x2="220.1" y2="844.4" stroke-width="1.4"/>
</g>

<g>
<text x="78.03" y="82.80" font-size="16.81" font-weight="bold" fill="#1a1a1a" stroke="#1a1a1a" stroke-width="0.35" textLength="67.33" lengthAdjust="spacingAndGlyphs">GROUP  5</text>
<text x="159.89" y="82.80" font-size="16.81" font-weight="bold" fill="#1a1a1a" stroke="#1a1a1a" stroke-width="0.35" textLength="79.73" lengthAdjust="spacingAndGlyphs">RCV LEVER</text>
<text x="73.28" y="120.90" font-size="14.35" font-weight="bold" fill="#1a1a1a" stroke="#1a1a1a" stroke-width="0.35" textLength="10.06" lengthAdjust="spacingAndGlyphs">1.</text>
<text x="85.83" y="120.90" font-size="14.35" font-weight="bold" fill="#1a1a1a" stroke="#1a1a1a" stroke-width="0.35" textLength="75.21" lengthAdjust="spacingAndGlyphs">STRUCTURE</text>
<text x="86.17" y="136.00" font-size="13.04" font-weight="normal" fill="#1a1a1a" stroke="#1a1a1a" stroke-width="0.2" textLength="501.08" lengthAdjust="spacingAndGlyphs">The casing has the oil inlet port P (primary pressure) and the oil outlet port T (tank).   In addition the</text>
<text x="85.86" y="153.30" font-size="13.04" font-weight="normal" fill="#1a1a1a" stroke="#1a1a1a" stroke-width="0.2" textLength="437.18" lengthAdjust="spacingAndGlyphs">secondary pressure is taken out through ports 1, 2, 3 and 4 provided at the bottom face.</text>
<text x="98.65" y="171.70" font-size="13.48" font-weight="bold" fill="#1a1a1a" stroke="#1a1a1a" stroke-width="0.35" textLength="306.02" lengthAdjust="spacingAndGlyphs">Refer to the parts manual for the types of the RCV lever.</text>
<text x="81.68" y="200.50" font-size="14.06" font-weight="bold" fill="#1a1a1a" stroke="#1a1a1a" stroke-width="0.35" textLength="111.32" lengthAdjust="spacingAndGlyphs">1) TYPE M1, M3, M5</text>
<text x="337.71" y="363.60" font-size="10.43" font-weight="bold" fill="#1a1a1a" stroke="#1a1a1a" stroke-width="0.35" textLength="41.37" lengthAdjust="spacingAndGlyphs">Switches</text>
<text x="346.71" y="385.10" font-size="11.88" font-weight="normal" fill="#1a1a1a" stroke="#1a1a1a" stroke-width="0.2" textLength="20.34" lengthAdjust="spacingAndGlyphs">Type</text>
<text x="384.86" y="385.10" font-size="11.88" font-weight="normal" fill="#1a1a1a" stroke="#1a1a1a" stroke-width="0.2" textLength="16.40" lengthAdjust="spacingAndGlyphs">No.</text>
<text x="444.48" y="385.10" font-size="11.88" font-weight="normal" fill="#1a1a1a" stroke="#1a1a1a" stroke-width="0.2" textLength="14.68" lengthAdjust="spacingAndGlyphs">LH</text>
<text x="534.12" y="385.10" font-size="11.88" font-weight="normal" fill="#1a1a1a" stroke="#1a1a1a" stroke-width="0.2" textLength="15.80" lengthAdjust="spacingAndGlyphs">RH</text>
<text x="338.66" y="418.30" font-size="11.45" font-weight="normal" fill="#1a1a1a" stroke="#1a1a1a" stroke-width="0.2" textLength="35.16" lengthAdjust="spacingAndGlyphs">M1, M3</text>
<text x="348.18" y="478.70" font-size="11.74" font-weight="normal" fill="#1a1a1a" stroke="#1a1a1a" stroke-width="0.2" textLength="15.97" lengthAdjust="spacingAndGlyphs">M5</text>
<text x="389.78" y="408.00" font-size="11.45" font-weight="normal" fill="#1a1a1a" stroke="#1a1a1a" stroke-width="0.2" textLength="5.86" lengthAdjust="spacingAndGlyphs">5</text>
<text x="413.43" y="408.00" font-size="11.88" font-weight="normal" fill="#1a1a1a" stroke="#1a1a1a" stroke-width="0.2" textLength="75.27" lengthAdjust="spacingAndGlyphs">One touch decel</text>
<text x="500.04" y="408.00" font-size="11.88" font-weight="normal" fill="#1a1a1a" stroke="#1a1a1a" stroke-width="0.2" textLength="23.39" lengthAdjust="spacingAndGlyphs">Horn</text>
<text x="389.72" y="428.30" font-size="11.45" font-weight="normal" fill="#1a1a1a" stroke="#1a1a1a" stroke-width="0.2" textLength="5.86" lengthAdjust="spacingAndGlyphs">6</text>
<text x="413.08" y="428.30" font-size="11.88" font-weight="normal" fill="#1a1a1a" stroke="#1a1a1a" stroke-width="0.2" textLength="56.91" lengthAdjust="spacingAndGlyphs">Power boost</text>
<text x="500.09" y="428.30" font-size="11.88" font-weight="normal" fill="#1a1a1a" stroke="#1a1a1a" stroke-width="0.2" textLength="35.48" lengthAdjust="spacingAndGlyphs">Breaker</text>
<text x="389.78" y="448.80" font-size="11.45" font-weight="normal" fill="#1a1a1a" stroke="#1a1a1a" stroke-width="0.2" textLength="5.86" lengthAdjust="spacingAndGlyphs">5</text>
<text x="413.43" y="448.80" font-size="11.88" font-weight="normal" fill="#1a1a1a" stroke="#1a1a1a" stroke-width="0.2" textLength="75.27" lengthAdjust="spacingAndGlyphs">One touch decel</text>
<text x="500.04" y="448.80" font-size="11.88" font-weight="normal" fill="#1a1a1a" stroke="#1a1a1a" stroke-width="0.2" textLength="23.39" lengthAdjust="spacingAndGlyphs">Horn</text>
<text x="389.72" y="469.00" font-size="11.45" font-weight="normal" fill="#1a1a1a" stroke="#1a1a1a" stroke-width="0.2" textLength="5.86" lengthAdjust="spacingAndGlyphs">6</text>
<text x="413.08" y="469.00" font-size="11.88" font-weight="normal" fill="#1a1a1a" stroke="#1a1a1a" stroke-width="0.2" textLength="56.91" lengthAdjust="spacingAndGlyphs">Power boost</text>
<text x="500.04" y="469.00" font-size="11.88" font-weight="normal" fill="#1a1a1a" stroke="#1a1a1a" stroke-width="0.2" textLength="18.59" lengthAdjust="spacingAndGlyphs">Null</text>
<text x="389.78" y="489.30" font-size="11.45" font-weight="normal" fill="#1a1a1a" stroke="#1a1a1a" stroke-width="0.2" textLength="5.86" lengthAdjust="spacingAndGlyphs">7</text>
<text x="413.38" y="489.30" font-size="11.88" font-weight="normal" fill="#1a1a1a" stroke="#1a1a1a" stroke-width="0.2" textLength="62.31" lengthAdjust="spacingAndGlyphs">CCW rotation</text>
<text x="500.37" y="489.30" font-size="11.88" font-weight="normal" fill="#1a1a1a" stroke="#1a1a1a" stroke-width="0.2" textLength="27.02" lengthAdjust="spacingAndGlyphs">Close</text>
<text x="389.75" y="509.30" font-size="11.45" font-weight="normal" fill="#1a1a1a" stroke="#1a1a1a" stroke-width="0.2" textLength="5.86" lengthAdjust="spacingAndGlyphs">8</text>
<text x="413.38" y="509.30" font-size="11.88" font-weight="normal" fill="#1a1a1a" stroke="#1a1a1a" stroke-width="0.2" textLength="54.99" lengthAdjust="spacingAndGlyphs">CW rotation</text>
<text x="500.40" y="509.30" font-size="11.88" font-weight="normal" fill="#1a1a1a" stroke="#1a1a1a" stroke-width="0.2" textLength="27.24" lengthAdjust="spacingAndGlyphs">Open</text>
<text x="348.88" y="529.70" font-size="12.03" font-weight="normal" fill="#1a1a1a" stroke="#1a1a1a" stroke-width="0.2" textLength="166.18" lengthAdjust="spacingAndGlyphs">Number 7 and 8 : Option attachment</text>
<text x="338.28" y="710.70" font-size="11.30" font-weight="bold" fill="#1a1a1a" stroke="#1a1a1a" stroke-width="0.35" textLength="46.79" lengthAdjust="spacingAndGlyphs">Pilot ports</text>
<text x="344.71" y="734.00" font-size="11.74" font-weight="normal" fill="#1a1a1a" stroke="#1a1a1a" stroke-width="0.2" textLength="18.18" lengthAdjust="spacingAndGlyphs">Port</text>
<text x="407.50" y="734.00" font-size="11.74" font-weight="normal" fill="#1a1a1a" stroke="#1a1a1a" stroke-width="0.2" textLength="12.84" lengthAdjust="spacingAndGlyphs">LH</text>
<text x="493.34" y="734.00" font-size="11.74" font-weight="normal" fill="#1a1a1a" stroke="#1a1a1a" stroke-width="0.2" textLength="15.46" lengthAdjust="spacingAndGlyphs">RH</text>
<text x="547.21" y="734.00" font-size="11.74" font-weight="normal" fill="#1a1a1a" stroke="#1a1a1a" stroke-width="0.2" textLength="38.23" lengthAdjust="spacingAndGlyphs">Port size</text>
<text x="350.05" y="755.90" font-size="11.74" font-weight="normal" fill="#1a1a1a" stroke="#1a1a1a" stroke-width="0.2" textLength="7.20" lengthAdjust="spacingAndGlyphs">P</text>
<text x="375.03" y="755.90" font-size="11.74" font-weight="normal" fill="#1a1a1a" stroke="#1a1a1a" stroke-width="0.2" textLength="70.64" lengthAdjust="spacingAndGlyphs">Pilot oil inlet port</text>
<text x="461.72" y="755.90" font-size="11.74" font-weight="normal" fill="#1a1a1a" stroke="#1a1a1a" stroke-width="0.2" textLength="71.14" lengthAdjust="spacingAndGlyphs">Pilot oil inlet port</text>
<text x="350.51" y="776.10" font-size="11.74" font-weight="normal" fill="#1a1a1a" stroke="#1a1a1a" stroke-width="0.2" textLength="6.60" lengthAdjust="spacingAndGlyphs">T</text>
<text x="375.03" y="776.10" font-size="11.74" font-weight="normal" fill="#1a1a1a" stroke="#1a1a1a" stroke-width="0.2" textLength="78.47" lengthAdjust="spacingAndGlyphs">Pilot oil return port</text>
<text x="461.72" y="776.10" font-size="11.74" font-weight="normal" fill="#1a1a1a" stroke="#1a1a1a" stroke-width="0.2" textLength="79.18" lengthAdjust="spacingAndGlyphs">Pilot oil return port</text>
<text x="350.64" y="796.70" font-size="11.74" font-weight="normal" fill="#1a1a1a" stroke="#1a1a1a" stroke-width="0.2" textLength="6.01" lengthAdjust="spacingAndGlyphs">1</text>
<text x="375.02" y="796.70" font-size="11.74" font-weight="normal" fill="#1a1a1a" stroke="#1a1a1a" stroke-width="0.2" textLength="63.36" lengthAdjust="spacingAndGlyphs">Left swing port</text>
<text x="461.72" y="796.70" font-size="11.74" font-weight="normal" fill="#1a1a1a" stroke="#1a1a1a" stroke-width="0.2" textLength="65.54" lengthAdjust="spacingAndGlyphs">Bucket out port</text>
<text x="350.80" y="817.50" font-size="11.74" font-weight="normal" fill="#1a1a1a" stroke="#1a1a1a" stroke-width="0.2" textLength="6.01" lengthAdjust="spacingAndGlyphs">2</text>
<text x="375.80" y="817.50" font-size="11.74" font-weight="normal" fill="#1a1a1a" stroke="#1a1a1a" stroke-width="0.2" textLength="53.57" lengthAdjust="spacingAndGlyphs">Arm out port</text>
<text x="461.71" y="817.50" font-size="11.74" font-weight="normal" fill="#1a1a1a" stroke="#1a1a1a" stroke-width="0.2" textLength="59.38" lengthAdjust="spacingAndGlyphs">Boom up port</text>
<text x="350.80" y="837.60" font-size="11.74" font-weight="normal" fill="#1a1a1a" stroke="#1a1a1a" stroke-width="0.2" textLength="6.01" lengthAdjust="spacingAndGlyphs">3</text>
<text x="375.02" y="837.60" font-size="11.74" font-weight="normal" fill="#1a1a1a" stroke="#1a1a1a" stroke-width="0.2" textLength="70.28" lengthAdjust="spacingAndGlyphs">Right swing port</text>
<text x="461.72" y="837.60" font-size="11.74" font-weight="normal" fill="#1a1a1a" stroke="#1a1a1a" stroke-width="0.2" textLength="59.88" lengthAdjust="spacingAndGlyphs">Bucket in port</text>
<text x="350.86" y="858.00" font-size="11.74" font-weight="normal" fill="#1a1a1a" stroke="#1a1a1a" stroke-width="0.2" textLength="6.01" lengthAdjust="spacingAndGlyphs">4</text>
<text x="375.80" y="858.00" font-size="11.74" font-weight="normal" fill="#1a1a1a" stroke="#1a1a1a" stroke-width="0.2" textLength="47.35" lengthAdjust="spacingAndGlyphs">Arm in port</text>
<text x="461.71" y="858.00" font-size="11.74" font-weight="normal" fill="#1a1a1a" stroke="#1a1a1a" stroke-width="0.2" textLength="71.86" lengthAdjust="spacingAndGlyphs">Boom down port</text>
<text x="550.90" y="807.10" font-size="11.74" font-weight="normal" fill="#1a1a1a" stroke="#1a1a1a" stroke-width="0.2" textLength="29.51" lengthAdjust="spacingAndGlyphs">PF 3/8</text>
<text x="555.95" y="879.00" font-size="7.54" font-weight="normal" fill="#1a1a1a" stroke="#1a1a1a" stroke-width="0.2" textLength="32.04" lengthAdjust="spacingAndGlyphs">300L2RL01</text>
<text x="318.38" y="902.30" font-size="12.03" font-weight="normal" fill="#1a1a1a" stroke="#1a1a1a" stroke-width="0.2" textLength="24.63" lengthAdjust="spacingAndGlyphs">2-83</text>
<text x="113.51" y="417.20" font-size="11.74" font-weight="normal" fill="#1a1a1a" stroke="#1a1a1a" stroke-width="0.2" textLength="13.20" lengthAdjust="spacingAndGlyphs">25</text>
<text x="88.29" y="430.60" font-size="11.45" font-weight="normal" fill="#1a1a1a" stroke="#1a1a1a" stroke-width="0.2" textLength="69.31" lengthAdjust="spacingAndGlyphs">Simultaneous</text>
<text x="88.34" y="440.40" font-size="11.45" font-weight="normal" fill="#1a1a1a" stroke="#1a1a1a" stroke-width="0.2" textLength="47.60" lengthAdjust="spacingAndGlyphs">operation</text>
<text x="252.31" y="414.80" font-size="11.30" font-weight="normal" fill="#1a1a1a" stroke="#1a1a1a" stroke-width="0.2" textLength="13.26" lengthAdjust="spacingAndGlyphs">19</text>
<text x="239.19" y="427.50" font-size="10.87" font-weight="normal" fill="#1a1a1a" stroke="#1a1a1a" stroke-width="0.2" textLength="31.52" lengthAdjust="spacingAndGlyphs">Single</text>
<text x="239.25" y="437.40" font-size="11.45" font-weight="normal" fill="#1a1a1a" stroke="#1a1a1a" stroke-width="0.2" textLength="47.29" lengthAdjust="spacingAndGlyphs">operation</text>
<text x="131.40" y="632.70" font-size="11.88" font-weight="normal" fill="#1a1a1a" stroke="#1a1a1a" stroke-width="0.2" textLength="7.62" lengthAdjust="spacingAndGlyphs">A</text>
<text x="268.40" y="632.70" font-size="11.88" font-weight="normal" fill="#1a1a1a" stroke="#1a1a1a" stroke-width="0.2" textLength="8.23" lengthAdjust="spacingAndGlyphs">A</text>
<text x="120.42" y="829.70" font-size="11.88" font-weight="normal" fill="#1a1a1a" stroke="#1a1a1a" stroke-width="0.2" textLength="13.99" lengthAdjust="spacingAndGlyphs">LH</text>
<text x="247.01" y="829.70" font-size="11.88" font-weight="normal" fill="#1a1a1a" stroke="#1a1a1a" stroke-width="0.2" textLength="16.14" lengthAdjust="spacingAndGlyphs">RH</text>
<text x="166.85" y="842.60" font-size="13.04" font-weight="normal" fill="#1a1a1a" stroke="#1a1a1a" stroke-width="0.2" textLength="27.92" lengthAdjust="spacingAndGlyphs">VIEW</text>
<text x="199.10" y="842.60" font-size="9.28" font-weight="normal" fill="#1a1a1a" stroke="#1a1a1a" stroke-width="0.2" textLength="17.92" lengthAdjust="spacingAndGlyphs">A-A</text>
<text x="316.09" y="249.20" font-size="12.90" font-weight="normal" fill="#1a1a1a" stroke="#1a1a1a" stroke-width="0.2" textLength="19.69" lengthAdjust="spacingAndGlyphs">Null</text>
<text x="425.39" y="252.40" font-size="11.30" font-weight="normal" fill="#1a1a1a" stroke="#1a1a1a" stroke-width="0.2" textLength="7.14" lengthAdjust="spacingAndGlyphs">5</text>
<text x="328.91" y="280.70" font-size="11.88" font-weight="normal" fill="#1a1a1a" stroke="#1a1a1a" stroke-width="0.2" textLength="6.58" lengthAdjust="spacingAndGlyphs">6</text>
<text x="360.70" y="341.40" font-size="13.04" font-weight="normal" fill="#1a1a1a" stroke="#1a1a1a" stroke-width="0.2" textLength="63.70" lengthAdjust="spacingAndGlyphs">TYPE M1, M3</text>
<text x="520.59" y="341.40" font-size="13.04" font-weight="normal" fill="#1a1a1a" stroke="#1a1a1a" stroke-width="0.2" textLength="45.83" lengthAdjust="spacingAndGlyphs">TYPE M5</text>
<text x="470.84" y="239.00" font-size="12.17" font-weight="normal" fill="#1a1a1a" stroke="#1a1a1a" stroke-width="0.2" textLength="7.33" lengthAdjust="spacingAndGlyphs">7</text>
<text x="457.01" y="257.20" font-size="12.32" font-weight="normal" fill="#1a1a1a" stroke="#1a1a1a" stroke-width="0.2" textLength="21.33" lengthAdjust="spacingAndGlyphs">Null</text>
<text x="470.85" y="285.00" font-size="12.17" font-weight="normal" fill="#1a1a1a" stroke="#1a1a1a" stroke-width="0.2" textLength="7.18" lengthAdjust="spacingAndGlyphs">6</text>
<text x="578.63" y="230.60" font-size="12.32" font-weight="normal" fill="#1a1a1a" stroke="#1a1a1a" stroke-width="0.2" textLength="7.10" lengthAdjust="spacingAndGlyphs">8</text>
<text x="578.69" y="250.50" font-size="12.32" font-weight="normal" fill="#1a1a1a" stroke="#1a1a1a" stroke-width="0.2" textLength="7.03" lengthAdjust="spacingAndGlyphs">5</text>
<text x="429.13" y="555.40" font-size="11.74" font-weight="normal" fill="#1a1a1a" stroke="#1a1a1a" stroke-width="0.2" textLength="7.23" lengthAdjust="spacingAndGlyphs">P</text>
<text x="496.10" y="555.40" font-size="11.74" font-weight="normal" fill="#1a1a1a" stroke="#1a1a1a" stroke-width="0.2" textLength="6.22" lengthAdjust="spacingAndGlyphs">T</text>
<text x="368.88" y="666.30" font-size="10.58" font-weight="normal" fill="#1a1a1a" stroke="#1a1a1a" stroke-width="0.2" textLength="4.60" lengthAdjust="spacingAndGlyphs">1</text>
<text x="453.09" y="666.30" font-size="10.58" font-weight="normal" fill="#1a1a1a" stroke="#1a1a1a" stroke-width="0.2" textLength="7.03" lengthAdjust="spacingAndGlyphs">3</text>
<text x="469.31" y="666.30" font-size="10.58" font-weight="normal" fill="#1a1a1a" stroke="#1a1a1a" stroke-width="0.2" textLength="7.70" lengthAdjust="spacingAndGlyphs">2</text>
<text x="555.08" y="666.30" font-size="10.58" font-weight="normal" fill="#1a1a1a" stroke="#1a1a1a" stroke-width="0.2" textLength="6.06" lengthAdjust="spacingAndGlyphs">4</text>
<text x="425.89" y="679.50" font-size="10.29" font-weight="normal" fill="#1a1a1a" stroke="#1a1a1a" stroke-width="0.2" textLength="80.70" lengthAdjust="spacingAndGlyphs">Hydraulic circuit</text>
<g stroke="#1a1a1a" stroke-width="1.7" fill="#1a1a1a"><path d="M87.7 164.1 L94.7 171.1 M94.7 164.1 L87.7 171.1"/><circle cx="91.2" cy="164.275" r="1.3" stroke="none"/><circle cx="91.2" cy="170.92499999999998" r="1.3" stroke="none"/><circle cx="87.875" cy="167.6" r="1.3" stroke="none"/><circle cx="94.525" cy="167.6" r="1.3" stroke="none"/></g>
<g stroke="#1a1a1a" stroke-width="0.9" fill="#1a1a1a"><path d="M338.3 522.0 L344.90000000000003 528.5999999999999 M344.90000000000003 522.0 L338.3 528.5999999999999"/><circle cx="341.6" cy="522.165" r="0.85" stroke="none"/><circle cx="341.6" cy="528.435" r="0.85" stroke="none"/><circle cx="338.46500000000003" cy="525.3" r="0.85" stroke="none"/><circle cx="344.735" cy="525.3" r="0.85" stroke="none"/></g>
</g>
</svg>
</body></html>
